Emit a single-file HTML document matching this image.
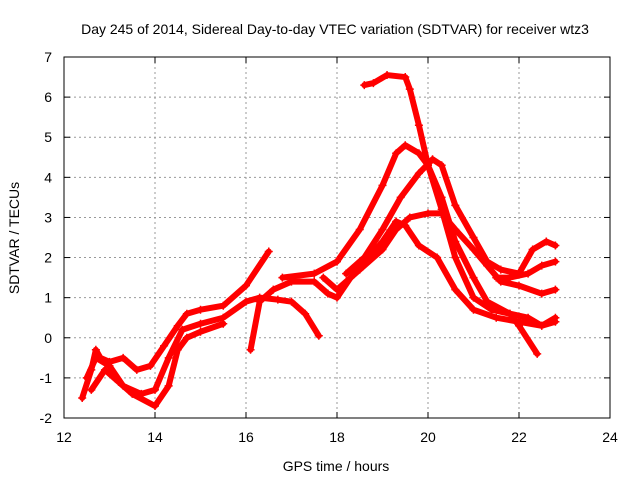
<!DOCTYPE html>
<html><head><meta charset="utf-8"><style>
body{margin:0;background:#fff}
svg text{font-family:"Liberation Sans",sans-serif;font-size:14px;fill:#000}
</style></head><body>
<svg id="c" width="640" height="480">
<text x="335" y="34" text-anchor="middle">Day 245 of 2014, Sidereal Day-to-day VTEC variation (SDTVAR) for receiver wtz3</text>
<text x="336" y="471" text-anchor="middle">GPS time / hours</text>
<text transform="translate(19,238) rotate(-90)" text-anchor="middle">SDTVAR / TECUs</text>
<g id="grid"></g><g id="series"></g>
<rect x="64" y="57" width="546" height="361" fill="none" stroke="#000" stroke-width="1"/>
</svg>
<script>
const xTicks=[12,14,16,18,20,22,24];
const yTicks=[-2,-1,0,1,2,3,4,5,6,7];
const s1=[[12.4,-1.5],[12.6,-0.8],[12.7,-0.3],[12.8,-0.5],[13.0,-0.6],[13.3,-0.5],[13.6,-0.8],[13.9,-0.7],[14.2,-0.2],[14.5,0.3],[14.7,0.6],[15.0,0.7],[15.5,0.8],[16.0,1.3],[16.5,2.15]];
const s2=[[12.5,-1.0],[12.7,-0.5],[13.0,-0.7],[13.3,-1.2],[13.7,-1.4],[14.0,-1.3],[14.3,-0.5],[14.6,0.2],[15.0,0.35],[15.5,0.5],[16.0,0.9],[16.3,1.0],[16.7,0.95],[17.0,0.9],[17.3,0.6],[17.6,0.05]];
const s3=[[12.6,-1.3],[12.9,-0.8],[13.2,-1.1],[13.5,-1.4],[14.0,-1.7],[14.3,-1.2],[14.5,-0.3],[14.7,0.0],[15.0,0.15],[15.5,0.35]];
const s4=[[16.1,-0.3],[16.3,0.9],[16.6,1.2],[17.0,1.4],[17.5,1.4],[17.8,1.1],[18.0,1.0],[18.3,1.5],[18.7,2.0],[19.0,2.4],[19.3,2.9],[19.5,2.8],[19.8,2.3],[20.2,2.0],[20.6,1.2],[21.0,0.7],[21.5,0.5],[22.0,0.4],[22.5,0.3],[22.8,0.5]];
const s5=[[16.8,1.5],[17.5,1.6],[18.0,1.9],[18.5,2.7],[19.0,3.8],[19.3,4.6],[19.5,4.8],[19.8,4.6],[20.0,4.3],[20.3,3.5],[20.6,2.4],[21.0,1.5],[21.3,0.9],[21.8,0.6],[22.0,0.3],[22.4,-0.4]];
const s6=[[18.6,6.3],[18.8,6.35],[19.1,6.55],[19.5,6.5],[19.6,6.2],[19.8,5.3],[20.0,4.3],[20.3,3.2],[20.6,2.0],[21.0,1.0],[21.4,0.7],[21.8,0.6],[22.2,0.5],[22.5,0.3],[22.8,0.4]];
const s7=[[18.2,1.6],[18.6,2.0],[19.0,2.7],[19.4,3.5],[19.8,4.1],[20.1,4.45],[20.3,4.3],[20.6,3.3],[21.0,2.5],[21.3,1.9],[21.6,1.7],[22.0,1.6],[22.3,2.2],[22.6,2.4],[22.8,2.3]];
const s8=[[17.7,1.5],[18.0,1.2],[18.5,1.7],[19.0,2.2],[19.3,2.7],[19.6,3.0],[20.0,3.1],[20.3,3.1],[20.6,2.7],[21.0,2.2],[21.3,1.8],[21.6,1.4],[22.0,1.3],[22.5,1.1],[22.8,1.2]];
const s9=[[21.5,1.5],[21.8,1.5],[22.2,1.6],[22.5,1.8],[22.8,1.9]];
const allSeries=[s1,s2,s3,s4,s5,s6,s7,s8,s9];
const NS="http://www.w3.org/2000/svg";
const X=h=>64+(h-12)*(546/12);
const Y=v=>418-(v+2)*(361/9);
const grid=document.getElementById('grid'),ser=document.getElementById('series');
function mk(t,a,p){const e=document.createElementNS(NS,t);for(const k in a)e.setAttribute(k,a[k]);p.appendChild(e);return e;}
xTicks.forEach(t=>{
 if(t>12&&t<24){const l=mk('line',{x1:X(t),x2:X(t),y1:57,y2:418,stroke:'#999','stroke-dasharray':'2,3'},grid);
 
 }
 mk('line',{x1:X(t),x2:X(t),y1:418,y2:412,stroke:'#000'},grid);
 mk('line',{x1:X(t),x2:X(t),y1:57,y2:63,stroke:'#000'},grid);
 const tx=mk('text',{x:X(t),y:442,'text-anchor':'middle'},grid);tx.textContent=t;
 
 
});
yTicks.forEach(t=>{
 if(t>-2&&t<7){const l=mk('line',{x1:64,x2:610,y1:Y(t),y2:Y(t),stroke:'#999','stroke-dasharray':'2,3'},grid);
 
 }
 mk('line',{x1:64,x2:70,y1:Y(t),y2:Y(t),stroke:'#000'},grid);
 mk('line',{x1:610,x2:604,y1:Y(t),y2:Y(t),stroke:'#000'},grid);
 const tx=mk('text',{x:52,y:Y(t)+5,'text-anchor':'end'},grid);tx.textContent=t;
 
 
});
allSeries.forEach((s,i)=>{
 const g=mk('g',{},ser);
 
 
 mk('polyline',{points:s.map(p=>X(p[0])+','+Y(p[1])).join(' '),fill:'none',stroke:'#f00','stroke-width':6,'stroke-linejoin':'round','stroke-linecap':'round'},g);
 s.forEach(p=>{const x=X(p[0]),y=Y(p[1]);
  mk('path',{d:`M${x-4},${y}H${x+4}M${x},${y-4}V${y+4}`,stroke:'#f00','stroke-width':1.5},g);});
});
</script>
</body></html>
